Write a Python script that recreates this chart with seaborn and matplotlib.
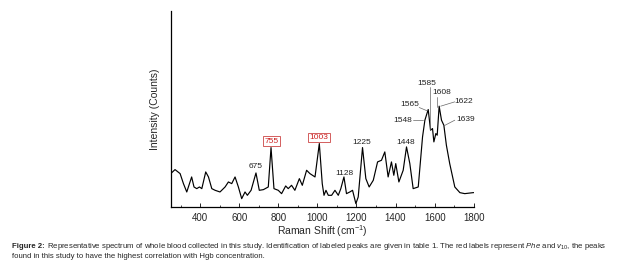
import matplotlib
matplotlib.use("Agg")
import matplotlib.pyplot as plt
import seaborn as sns
import pandas as pd

shift = [250, 272, 298, 315, 332, 357, 369, 383, 397, 409, 429, 443, 460, 477, 502, 528, 545, 562,
         579, 596, 613, 630, 642, 661, 686, 703, 724, 749, 763, 778, 800, 817, 838, 851, 868, 885,
         908, 923, 945, 962, 988, 1010, 1025, 1034, 1044, 1056, 1073, 1090, 1107, 1120, 1136, 1149,
         1166, 1180, 1197, 1209, 1231, 1248, 1265, 1286, 1308, 1328, 1345, 1362, 1379, 1391, 1401,
         1417, 1439, 1456, 1473, 1490, 1516, 1538, 1550, 1567, 1579, 1589, 1596, 1606, 1613, 1623,
         1635, 1647, 1660, 1677, 1703, 1729, 1754, 1797, 1800]
intensity = [100, 112, 100, 70, 45, 90, 60, 55, 60, 55, 105, 90, 55, 50, 45, 60, 75, 70,
             90, 60, 25, 45, 35, 50, 102, 50, 52, 60, 178, 55, 50, 40, 63, 55, 65, 50,
             85, 65, 110, 100, 90, 190, 70, 35, 50, 35, 35, 50, 35, 55, 90, 40,
             45, 50, 10, 30, 178, 85, 60, 80, 135, 140, 165, 90, 135, 95, 130,
             75, 110, 180, 130, 55, 60, 210, 260, 292, 230, 235, 195, 220, 215, 302,
             260, 245, 185, 130, 60, 43, 40, 43, 43]

# plain peak labels
plain_labels = ["675", "1128", "1225", "1448"]
plain_x = [686, 1137, 1229, 1451]
plain_y = [120, 100, 192, 193]
# red boxed labels
red_labels = ["755", "1003"]
red_x = [766, 1008]
red_y = [197, 208]
# labels with leader lines
lead_labels = ["1548", "1565", "1585", "1608", "1622", "1639"]
lead_tx = [1435, 1473, 1558, 1635, 1748, 1757]
lead_ty = [260, 308, 370, 342, 315, 262]
lead_x0 = [1490, 1521, 1575, 1614, 1703, 1703]
lead_y0 = [262, 298, 358, 330, 315, 260]
lead_x1 = [1541, 1562, 1575, 1614, 1631, 1647]
lead_y1 = [262, 288, 230, 300, 302, 243]

major_ticks = [400, 600, 800, 1000, 1200, 1400, 1600, 1800]
minor_ticks = [300, 500, 700, 900, 1100, 1300, 1500, 1700]

caption_bold = "Figure 2:"
caption_line1 = (" Representative spectrum of whole blood collected in this study. Identification of "
                 "labeled peaks are given in table 1. The red labels represent $\\it{Phe}$ and "
                 "$\\it{v}_{10}$, the peaks")
caption_line2 = "found in this study to have the highest correlation with Hgb concentration."

sns.set_style("white")
plt.rcParams["font.family"] = ["Liberation Sans", "DejaVu Sans"]
plt.rcParams["mathtext.fontset"] = "custom"
plt.rcParams["mathtext.rm"] = "Liberation Sans"
plt.rcParams["mathtext.it"] = "Liberation Sans:italic"
plt.rcParams["mathtext.bf"] = "Liberation Sans:bold"

fig = plt.figure(figsize=(6.3, 2.69), dpi=100)
ax = fig.add_axes([0.271, 0.2305, 0.481, 0.7285])

df = pd.DataFrame({"shift": shift, "intensity": intensity})
sns.lineplot(data=df, x="shift", y="intensity", ax=ax, color="black", linewidth=0.85,
             sort=False, estimator=None)

ax.set_xlim(250, 1800)
ax.set_ylim(0, 587)
ax.set_yticks([])
ax.set_xticks(major_ticks)
ax.set_xticks(minor_ticks, minor=True)
ax.tick_params(axis="x", which="major", direction="in", length=3, width=0.7,
               labelsize=7, pad=4, bottom=True)
ax.tick_params(axis="x", which="minor", direction="in", length=1.8, width=0.6, bottom=True)
for s in ["top", "right"]:
    ax.spines[s].set_visible(False)
for s in ["left", "bottom"]:
    ax.spines[s].set_color("black")
    ax.spines[s].set_linewidth(0.9)

ax.set_xlabel("Raman Shift (cm$^{-1}$)", fontsize=7.5, labelpad=0.5)
ax.set_ylabel("Intensity (Counts)", fontsize=7.5, labelpad=8)

for t, x, y in zip(plain_labels, plain_x, plain_y):
    ax.text(x, y, t, fontsize=6, ha="center", va="center", color="#222222")
for t, x, y in zip(red_labels, red_x, red_y):
    ax.text(x, y, t, fontsize=6, ha="center", va="center", color="#cc2222",
            bbox=dict(boxstyle="square,pad=0.15", fc="white", ec="#cc4444", lw=0.6))
for t, tx, ty, x0, y0, x1, y1 in zip(lead_labels, lead_tx, lead_ty, lead_x0, lead_y0, lead_x1, lead_y1):
    ax.text(tx, ty, t, fontsize=6, ha="center", va="center", color="#222222")
    ax.plot([x0, x1], [y0, y1], color="#666666", lw=0.5)

cap_fs = 5.62
y1 = 0.078
y2 = 0.040
tb = fig.text(0.019, y1, caption_bold, fontsize=cap_fs, fontweight="bold",
              ha="left", va="baseline")
fig.canvas.draw()
bb = tb.get_window_extent(renderer=fig.canvas.get_renderer())
xnext = bb.x1 / fig.bbox.width
fig.text(xnext, y1, caption_line1, fontsize=cap_fs, ha="left", va="baseline")
fig.text(0.019, y2, caption_line2, fontsize=cap_fs, ha="left", va="baseline")

fig.savefig("out.png", dpi=100)
